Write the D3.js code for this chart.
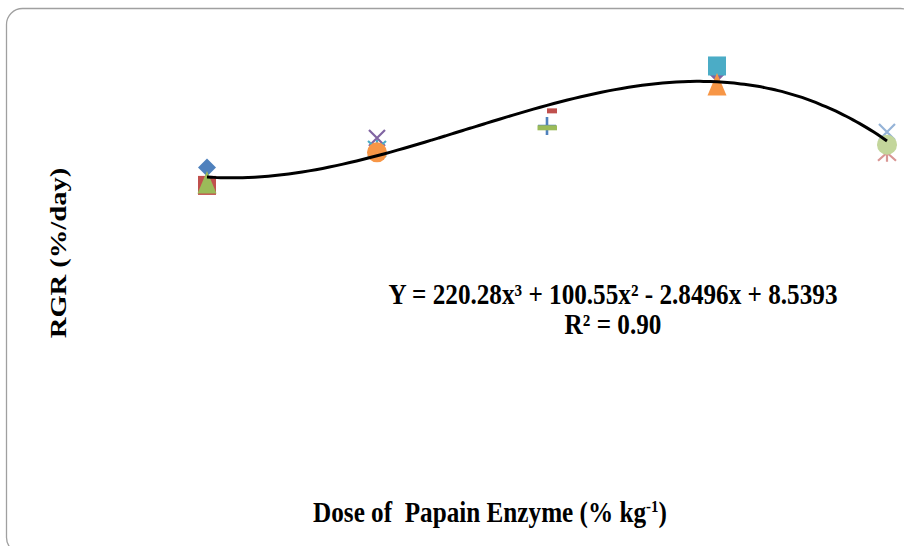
<!DOCTYPE html>
<html>
<head>
<meta charset="utf-8">
<script src="https://cdn.jsdelivr.net/npm/d3@7"></script>
<style>
  html, body { margin: 0; padding: 0; background: #ffffff; }
  svg { display: block; }
  text { white-space: pre; }
</style>
</head>
<body>
<div id="chart"></div>
<script>
// dose levels (x) and the RGR reading of every marker, one entry per series
const doses = [0, 0.1, 0.2, 0.3, 0.4];
const seriesDose = [0, 0, 0, 0.1, 0.1, 0.1, 0.2, 0.2, 0.2, 0.3, 0.3, 0.3, 0.4, 0.4, 0.4];
const seriesRgr = [8.76, 8.34, 8.41, 9.46, 9.20, 9.12, 10.10, 9.74, 9.70, 11.16, 10.99, 10.72, 9.60, 9.30, 9.11];
const seriesShape = ["diamond", "square", "triangle", "x", "star", "circle", "shortdash", "plus", "longdash",
                     "square", "diamond", "triangle", "x", "circle", "star"];
const seriesColor = ["#4F81BD", "#C0504D", "#9BBB59", "#8064A2", "#4BACC6", "#F79646", "#C0504D", "#4F81BD", "#9BBB59",
                     "#4BACC6", "#8064A2", "#F79646", "#95B3D7", "#C3D69B", "#D99694"];
// draw order (as Excel stacks series)
const drawOrder = [0, 1, 2, 3, 4, 5, 6, 7, 8, 10, 9, 11, 12, 14, 13];

// cubic trend line coefficients c0..c3
const trendCoef = [8.5393, -2.8496, 100.55, -220.28];
const equationText = "Y = 220.28x³ + 100.55x² - 2.8496x + 8.5393";
const r2Text = "R² = 0.90";

const width = 904;
const height = 546;

const x = d3.scaleLinear().domain([0, 0.4]).range([207, 887]);
const y = d3.scaleLinear().domain([4, 12]).range([369.2, 30.4]);

// the source picture is stretched a little vertically
const stretch = 1.15;

const svg = d3.select("#chart").append("svg")
    .attr("width", width)
    .attr("height", height)
    .attr("font-family", "'Liberation Serif', 'Times New Roman', serif");

// chart frame with rounded corners
svg.append("rect")
    .attr("x", 6.5)
    .attr("y", 8.5)
    .attr("width", 910)
    .attr("height", 545)
    .attr("rx", 16)
    .attr("fill", "#ffffff")
    .attr("stroke", "#a0a0a0")
    .attr("stroke-width", 1.3);

function drawMarker(g, shape, color) {
    if (shape == "diamond") {
        g.append("path").attr("d", "M0,-9L9,0L0,9L-9,0Z").attr("fill", color);
    } else if (shape == "square") {
        g.append("rect").attr("x", -9).attr("y", -9.5).attr("width", 18).attr("height", 19).attr("fill", color);
    } else if (shape == "triangle") {
        g.append("path").attr("d", "M0,-11.5L9.5,11L-9.5,11Z").attr("fill", color);
    } else if (shape == "circle") {
        g.append("circle").attr("r", 10).attr("fill", color);
    } else if (shape == "x") {
        g.append("path").attr("d", "M-8,-8L8,8M8,-8L-8,8")
            .attr("stroke", color).attr("stroke-width", 2.2).attr("fill", "none");
    } else if (shape == "star") {
        g.append("path").attr("d", "M-9,-8L9,8M9,-8L-9,8M0,-9V9")
            .attr("stroke", color).attr("stroke-width", 2.2).attr("fill", "none");
    } else if (shape == "plus") {
        g.append("path").attr("d", "M0,-9V9M-9,0H9")
            .attr("stroke", color).attr("stroke-width", 2.6).attr("fill", "none");
    } else if (shape == "shortdash") {
        g.append("rect").attr("x", 0).attr("y", -2.5).attr("width", 10).attr("height", 5).attr("fill", color);
    } else if (shape == "longdash") {
        g.append("rect").attr("x", -9.5).attr("y", -2.5).attr("width", 19.5).attr("height", 5).attr("fill", color);
    }
}

const markers = svg.append("g");
drawOrder.forEach(i => {
    const g = markers.append("g")
        .attr("transform", `translate(${x(seriesDose[i])},${y(seriesRgr[i])})`);
    drawMarker(g, seriesShape[i], seriesColor[i]);
});

// trend line
const trend = d3.range(0, 0.4 + 1e-9, 0.004).map(d => ({
    dose: d,
    rgr: trendCoef[0] + trendCoef[1] * d + trendCoef[2] * d * d + trendCoef[3] * d * d * d
}));

svg.append("path")
    .datum(trend)
    .attr("fill", "none")
    .attr("stroke", "#000000")
    .attr("stroke-width", 3)
    .attr("d", d3.line().x(d => x(d.dose)).y(d => y(d.rgr)).curve(d3.curveMonotoneX));

// equation
svg.append("text")
    .attr("transform", `translate(613,304) scale(1,${stretch})`)
    .attr("text-anchor", "middle")
    .attr("font-size", 25.2)
    .attr("font-weight", "bold")
    .text(equationText);

svg.append("text")
    .attr("transform", `translate(613,333.5) scale(1,${stretch})`)
    .attr("text-anchor", "middle")
    .attr("font-size", 25.2)
    .attr("font-weight", "bold")
    .text(r2Text);

// axis titles
const xTitle = svg.append("text")
    .attr("transform", `translate(490,522) scale(1,${stretch})`)
    .attr("text-anchor", "middle")
    .attr("font-size", 25.2)
    .attr("font-weight", "bold");
xTitle.append("tspan").text("Dose of  Papain Enzyme (% kg");
xTitle.append("tspan").attr("dy", -9).attr("font-size", 15).text("-1");
xTitle.append("tspan").attr("dy", 9).text(")");

svg.append("text")
    .attr("transform", `translate(66,253) rotate(-90) scale(1.19,1)`)
    .attr("text-anchor", "middle")
    .attr("font-size", 24)
    .attr("font-weight", "bold")
    .text("RGR (%/day)");
</script>
</body>
</html>
